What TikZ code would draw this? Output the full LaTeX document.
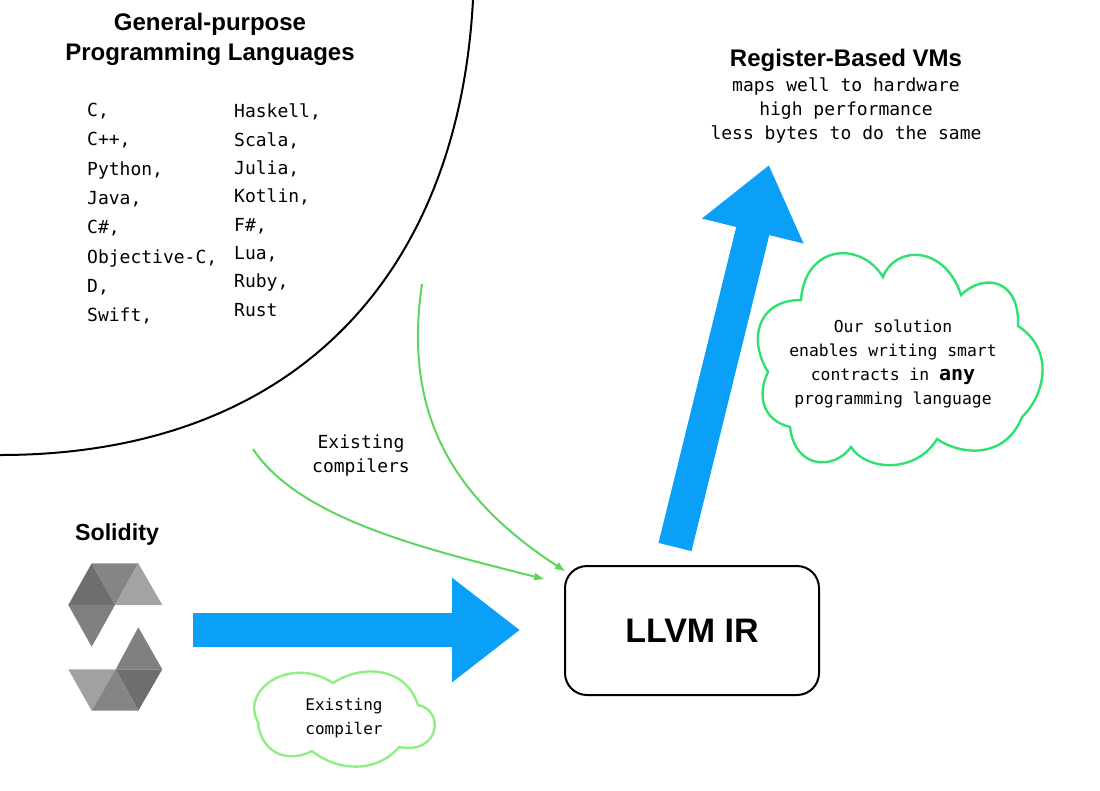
\documentclass[tikz,border=0pt]{standalone}
\usepackage{fontspec}
\setmainfont{Liberation Sans}
\newfontfamily\codefont{DejaVu Sans Mono}
\usetikzlibrary{arrows.meta}

\definecolor{bigblue}{HTML}{0BA0F8}
\definecolor{linegreen}{HTML}{5CD65C}
\definecolor{cloudgreen}{HTML}{30E070}
\definecolor{softgreen}{HTML}{90EE84}

\tikzset{
    title/.style={font=\bfseries\fontsize{24}{30}\selectfont, align=center},
    code/.style={font=\codefont\fontsize{18}{#1}\selectfont, align=left, inner sep=0pt},
    code/.default=29.3,
    bigarrow/.style={bigblue, line width=34pt, -{Triangle[length=68pt,width=100pt]}},
    thinarrow/.style={linegreen, line width=2pt, -{Triangle[length=10pt,width=7pt]}},
    face/.style={fill=black!#1},
}

\begin{document}
\begin{tikzpicture}[x=1pt, y=-1pt]
    \useasboundingbox (0, 0) rectangle (1100, 790);

    % languages
    \draw [line width=2pt] (473, 0) .. controls (458, 280) and (290, 455) .. (0, 455);
    \node [title] (general) at (210, 39.5) {General-purpose\\Programming Languages};
    \node [code, anchor=north west] (langs1) at (87, 103)
        {C,\\C++,\\Python,\\Java,\\C\#,\\Objective-C,\\D,\\Swift,};
    \node [code=28.3, anchor=north west] (langs2) at (234, 104)
        {Haskell,\\Scala,\\Julia,\\Kotlin,\\F\#,\\Lua,\\Ruby,\\Rust};

    % register VMs
    \node [title] (vms) at (846, 60) {Register-Based VMs};
    \node [code=24, align=center] (vmtext) at (846, 110)
        {maps well to hardware\\high performance\\less bytes to do the same};

    % solidity logo
    \node [font=\bfseries\fontsize{23.2}{28}\selectfont] (solidity) at (117, 534) {Solidity};
    \fill [face=57] (68.3, 605) -- (91.7, 563.3) -- (115, 605) -- cycle;
    \fill [face=48] (91.7, 563.3) -- (138.3, 563.3) -- (115, 605) -- cycle;
    \fill [face=36] (138.3, 563.3) -- (162.3, 605) -- (115, 605) -- cycle;
    \fill [face=50] (68.3, 605) -- (115, 605) -- (91.7, 646.7) -- cycle;
    \fill [face=50] (138.3, 627.3) -- (162.3, 669.3) -- (115.7, 669.3) -- cycle;
    \fill [face=57] (115.7, 669.3) -- (162.3, 669.3) -- (138.3, 710.7) -- cycle;
    \fill [face=37] (68.3, 669.3) -- (115.7, 669.3) -- (91.7, 710.7) -- cycle;
    \fill [face=48] (115.7, 669.3) -- (138.3, 710.7) -- (91.7, 710.7) -- cycle;

    % llvm box
    \node [draw, line width=2pt, rounded corners=22pt, minimum width=254pt, minimum height=129pt,
        font=\bfseries\fontsize{34}{40}\selectfont] (llvm) at (692, 630.5) {LLVM IR};

    % big arrows
    \coordinate (solstart) at (193, 630);
    \coordinate (solend) at (520, 630);
    \coordinate (vmstart) at (675, 547);
    \coordinate (vmend) at (769, 165);
    \draw [bigarrow] (solstart) -- (solend);
    \draw [bigarrow] (vmstart) -- (vmend);

    % existing compilers
    \coordinate (from1) at (253, 449);
    \coordinate (to1) at (544, 579);
    \coordinate (from2) at (422, 284);
    \coordinate (to2) at (565, 571);
    \draw [thinarrow] (from1) .. controls (300, 520) and (430, 550) .. (to1);
    \draw [thinarrow] (from2) .. controls (405, 400) and (440, 490) .. (to2);
    \node [code=24, align=center] (existing) at (361, 456) {Existing\\compilers};

    % clouds
    \draw [cloudgreen, line width=2.4pt] (801, 300)
        .. controls (805, 245) and (860, 240) .. (883, 277)
        .. controls (895, 245) and (945, 245) .. (961, 295)
        .. controls (985, 272) and (1020, 280) .. (1018, 326)
        .. controls (1055, 350) and (1045, 395) .. (1022, 417)
        .. controls (1005, 460) and (960, 455) .. (937, 439)
        .. controls (915, 475) and (865, 470) .. (851, 447)
        .. controls (835, 470) and (795, 470) .. (790, 427)
        .. controls (762, 420) and (757, 395) .. (768, 372)
        .. controls (748, 340) and (757, 300) .. (801, 300) -- cycle;
    \node [code=23, align=center, font=\codefont\fontsize{16.4}{24}\selectfont] (solution) at (893, 363.5)
        {Our solution\\enables writing smart\\contracts in {\bfseries\fontsize{20}{24}\selectfont any}\\programming language};
    \draw [softgreen, line width=2.4pt] (333, 683)
        .. controls (360, 665) and (405, 665) .. (418, 705)
        .. controls (445, 710) and (440, 755) .. (399, 747)
        .. controls (375, 775) and (335, 770) .. (312, 751)
        .. controls (285, 765) and (260, 750) .. (258, 722)
        .. controls (240, 690) and (290, 655) .. (333, 683) -- cycle;
    \node [code, align=center, font=\codefont\fontsize{16}{24}\selectfont] (compiler) at (344, 718)
        {Existing\\compiler};
\end{tikzpicture}
\end{document}
